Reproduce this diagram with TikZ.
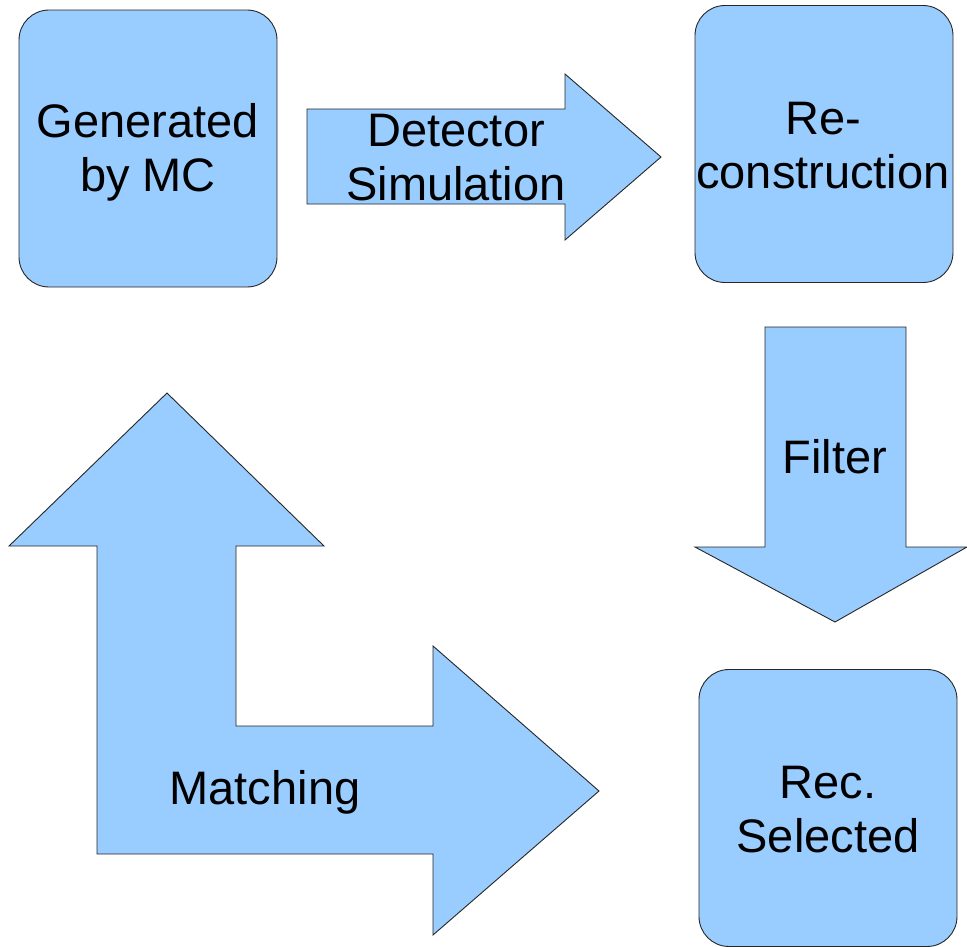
\documentclass[tikz,border=0pt]{standalone}
\usepackage{fontspec}
\setmainfont{Liberation Sans}
\begin{document}
\begin{tikzpicture}[x=1pt,y=-1pt,
  shapefill/.style={fill=boxblue,draw=black!85,line width=0.9pt,line join=miter},
  stagebox/.style={shapefill,rounded corners=30pt,minimum width=258pt,minimum height=277pt,inner sep=0pt},
  lbl/.style={align=center,font=\fontsize{47}{54}\selectfont,inner sep=0pt}]
\definecolor{boxblue}{HTML}{99CCFF}
\useasboundingbox (0,0) rectangle (967,946);
% stage boxes
\node[stagebox] (gen) at (148,148.5) {};
\node[stagebox] (rec) at (824,144) {};
\node[stagebox] (sel) at (828,808) {};
% arrow shapes
\draw[shapefill] (307,109) -- (565,109) -- (565,74) -- (661,157) -- (565,240) -- (565,204) -- (307,204) -- cycle;
\draw[shapefill] (765,327) -- (906,327) -- (906,547) -- (967,547) -- (835,622) -- (695,547) -- (765,547) -- cycle;
\draw[shapefill] (167,393) -- (324,546) -- (236,546) -- (236,726) -- (433,726) -- (433,646) -- (599,791) -- (433,935) -- (433,854) -- (97,854) -- (97,546) -- (9,546) -- cycle;
% labels
\node[lbl] (genl) at (148,152) {Generated\\by MC};
\node[lbl] (recl) at (823,146) {Re-\\construction};
\node[lbl] (sell) at (828,810) {Rec.\\Selected};
\node[lbl] (detl) at (456,158) {Detector\\Simulation};
\node[lbl] (fill) at (835,457) {Filter};
\node[lbl] (matl) at (265,792) {Matching};
\end{tikzpicture}
\end{document}
